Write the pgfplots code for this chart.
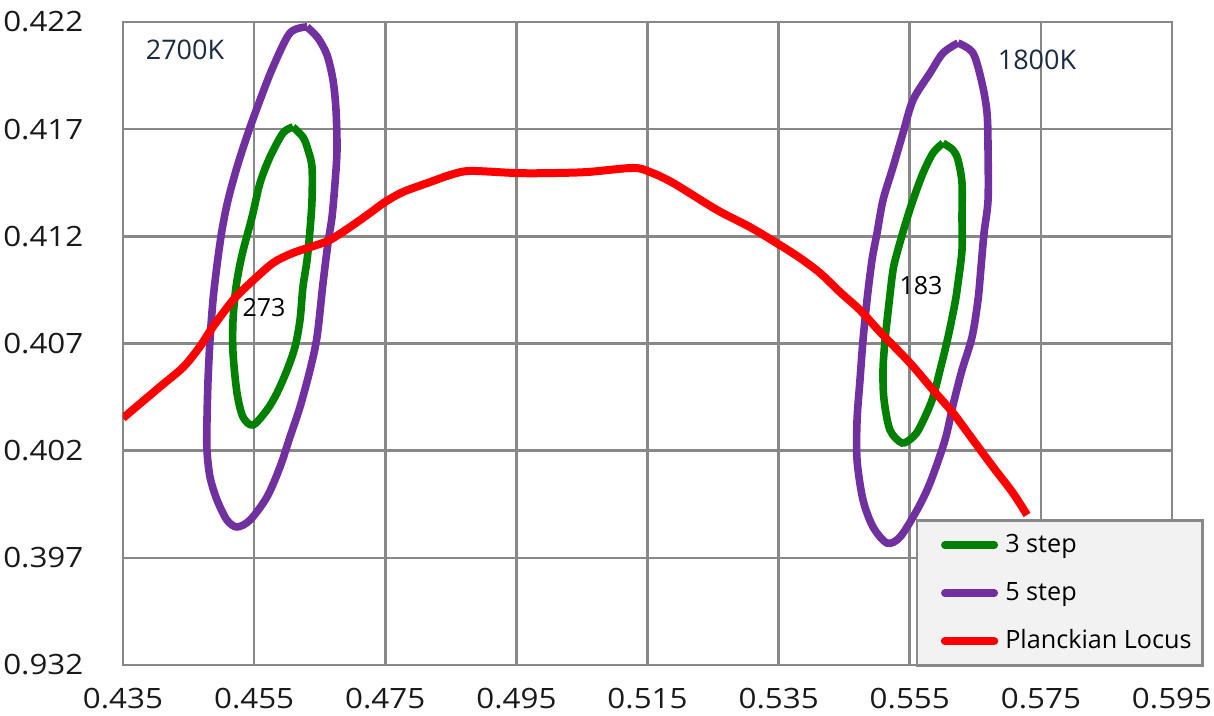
\documentclass[border=0pt]{standalone}
\usepackage{pgfplots}
\pgfplotsset{compat=1.18}
\usepackage{fontspec}
\setmainfont{Open Sans}
\definecolor{gridgray}{HTML}{888888}
\definecolor{cgreen}{HTML}{008000}
\definecolor{cpurple}{HTML}{7030A0}
\definecolor{cred}{HTML}{FF0000}
\definecolor{navy}{HTML}{1B2B45}
\definecolor{legfill}{HTML}{F2F2F2}
\begin{document}
\begin{tikzpicture}
\begin{axis}[
 width=524.5pt, height=321.5pt, scale only axis,
 xmin=0.435, xmax=0.595, ymin=0.392, ymax=0.422,
 xtick={0.435,0.455,0.475,0.495,0.515,0.535,0.555,0.575,0.595},
 xticklabels={0.435,0.455,0.475,0.495,0.515,0.535,0.555,0.575,0.595},
 ytick={0.392,0.397,0.402,0.407,0.412,0.417,0.422},
 yticklabels={0.932,0.397,0.402,0.407,0.412,0.417,0.422},
 major tick length=0pt,
 grid=major,
 grid style={gridgray, line width=1.3pt},
 axis line style={gridgray, line width=1.3pt},
 tick label style={font=\fontsize{14}{16}\selectfont, inner sep=0pt, text=black!90, xscale=1.12},
 yticklabel style={anchor=east, xshift=-17.5pt},
 xticklabel style={anchor=north, yshift=-11.5pt},
 legend style={at={(1.0305,-0.003)}, anchor=south east, draw=gridgray, line width=1.3pt,
   fill=legfill, inner xsep=5.5pt, inner ysep=5.75pt, row sep=11pt, column sep=3.5pt,
   font=\fontsize{12.6}{15}\selectfont, nodes={inner sep=0pt, text height=10pt, text depth=3pt}},
 legend cell align=left,
 legend image code/.code={\path (-6.4pt,0pt); \draw[#1, line cap=round] (0pt,0pt) -- (24.7pt,0pt);},
]
% 3 step, 2700K
\addplot[cgreen, line width=3.8pt, smooth, tension=0.5] coordinates {
(0.46093,0.41710) (0.46245,0.41663) (0.46322,0.41603) (0.46383,0.41523)
(0.46383,0.41369) (0.46352,0.41229) (0.46307,0.41089) (0.46245,0.40964)
(0.46200,0.40810) (0.46124,0.40684) (0.46002,0.40576) (0.45849,0.40469)
(0.45696,0.40390) (0.45483,0.40320) (0.45330,0.40357) (0.45239,0.40469)
(0.45178,0.40656) (0.45178,0.40810) (0.45224,0.40964) (0.45315,0.41113)
(0.45468,0.41290) (0.45590,0.41449) (0.45742,0.41570) (0.45941,0.41682)
(0.46093,0.41710)};
\addlegendentry{3 step}
% 3 step, 1800K
\addplot[cgreen, line width=3.8pt, smooth, tension=0.5, forget plot] coordinates {
(0.56007,0.41635) (0.56160,0.41603) (0.56236,0.41556) (0.56297,0.41449)
(0.56297,0.41290) (0.56297,0.41136) (0.56236,0.40982) (0.56190,0.40889)
(0.56084,0.40730) (0.55962,0.40576) (0.55840,0.40436) (0.55657,0.40310)
(0.55550,0.40264) (0.55382,0.40236) (0.55199,0.40296) (0.55108,0.40436)
(0.55092,0.40576) (0.55123,0.40716) (0.55184,0.40889) (0.55245,0.41043)
(0.55306,0.41122) (0.55428,0.41253) (0.55550,0.41369) (0.55702,0.41495)
(0.55855,0.41589) (0.56007,0.41635)};
% 5 step, 2700K
\addplot[cpurple, line width=3.8pt, smooth, tension=0.5] coordinates {
(0.46307,0.42177) (0.46474,0.42125) (0.46612,0.42046) (0.46703,0.41929)
(0.46749,0.41789) (0.46764,0.41603) (0.46734,0.41449) (0.46688,0.41290)
(0.46627,0.41169) (0.46551,0.40982) (0.46459,0.40730) (0.46352,0.40576)
(0.46200,0.40404) (0.46047,0.40264) (0.45895,0.40124) (0.45696,0.39984)
(0.45437,0.39876) (0.45239,0.39844) (0.45086,0.39876) (0.44934,0.39970)
(0.44827,0.40077) (0.44781,0.40203) (0.44781,0.40343) (0.44797,0.40530)
(0.44827,0.40716) (0.44873,0.40903) (0.44934,0.41066) (0.45010,0.41229)
(0.45102,0.41369) (0.45239,0.41523) (0.45407,0.41682) (0.45590,0.41836)
(0.45788,0.41990) (0.46047,0.42149) (0.46307,0.42177)};
\addlegendentry{5 step}
% 5 step, 1800K
\addplot[cpurple, line width=3.8pt, smooth, tension=0.5, forget plot] coordinates {
(0.56236,0.42102) (0.56465,0.42055) (0.56602,0.41915) (0.56679,0.41775)
(0.56694,0.41603) (0.56694,0.41369) (0.56633,0.41215) (0.56587,0.41057)
(0.56541,0.40903) (0.56450,0.40730) (0.56297,0.40576) (0.56160,0.40413)
(0.56038,0.40250) (0.55809,0.40049) (0.55611,0.39923) (0.55352,0.39797)
(0.55153,0.39769) (0.54940,0.39844) (0.54787,0.39970) (0.54696,0.40156)
(0.54696,0.40343) (0.54741,0.40530) (0.54787,0.40716) (0.54848,0.40903)
(0.54924,0.41089) (0.55001,0.41215) (0.55092,0.41369) (0.55245,0.41523)
(0.55397,0.41682) (0.55550,0.41836) (0.55809,0.41962) (0.56007,0.42055)
(0.56236,0.42102)};
% Planckian locus
\addplot[cred, line width=4pt, smooth, tension=0.5] coordinates {
(0.4350,0.40352) (0.4406,0.40497) (0.4442,0.40590) (0.4467,0.40684)
(0.4487,0.40777) (0.4518,0.40903) (0.4544,0.40982) (0.4579,0.41076)
(0.4609,0.41122) (0.4646,0.41160) (0.46657,0.41183) (0.46962,0.41243)
(0.47267,0.41309) (0.47496,0.41360) (0.47771,0.41407) (0.48183,0.41453)
(0.48488,0.41486) (0.4879,0.41505) (0.4951,0.41495) (0.5001,0.41495)
(0.5058,0.41500) (0.5128,0.41519) (0.5154,0.41500) (0.5189,0.41449)
(0.5256,0.41323) (0.53064,0.41243) (0.53521,0.41159) (0.53826,0.41099)
(0.54131,0.41029) (0.54436,0.40940) (0.54741,0.40856) (0.55046,0.40754)
(0.55504,0.40609) (0.55855,0.40483) (0.56160,0.40376) (0.56465,0.40250)
(0.56770,0.40124) (0.57075,0.40002) (0.57289,0.39900)};
\addlegendentry{Planckian Locus}
\node[font=\fontsize{13.5}{16}\selectfont, text=navy] at (axis cs:0.44446,0.42069) {2700K};
\node[font=\fontsize{13.5}{16}\selectfont, text=navy] at (axis cs:0.57441,0.42023) {1800K};
\node[font=\fontsize{12.5}{15}\selectfont, text=black] at (axis cs:0.45651,0.40866) {273};
\node[font=\fontsize{12.5}{15}\selectfont, text=black] at (axis cs:0.55672,0.40968) {183};
\end{axis}
\path (current axis.south west) ++(-61.5pt,-25.5pt) rectangle ++(607pt,358pt);
\end{tikzpicture}
\end{document}
